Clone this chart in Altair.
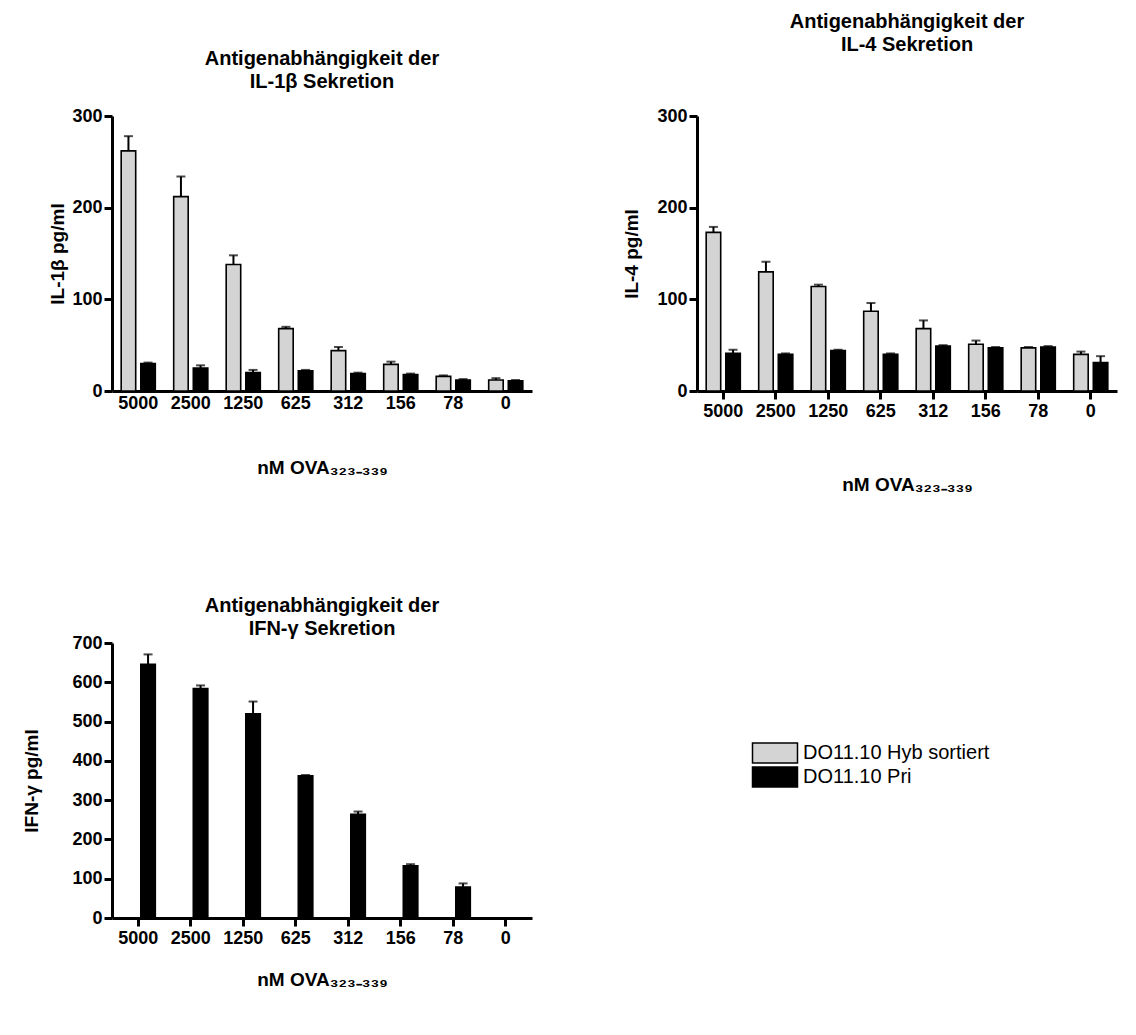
import altair as alt
import pandas as pd

categories = ["5000", "2500", "1250", "625", "312", "156", "78", "0"]
series = ["DO11.10 Hyb sortiert", "DO11.10 Pri"]

il1b_hyb = [262, 212, 138, 68, 44, 29, 16, 12]
il1b_hyb_err = [16, 22, 10, 2, 4, 3, 1, 2]
il1b_pri = [30, 25, 20, 22, 19, 18, 12, 11]
il1b_pri_err = [1, 3, 3, 1, 1, 1, 1, 1]

il4_hyb = [173, 130, 114, 87, 68, 51, 47, 40]
il4_hyb_err = [6, 11, 2, 9, 9, 4, 1, 3]
il4_pri = [41, 40, 44, 40, 49, 47, 48, 31]
il4_pri_err = [4, 1, 1, 1, 1, 1, 1, 7]

ifng_pri = [646, 584, 520, 362, 264, 133, 79, 0]
ifng_pri_err = [25, 8, 31, 2, 7, 4, 9, 0]

FONT = "Liberation Sans"
colors = ["#d4d4d4", "#000000"]


def make_df(hyb, hyb_err, pri, pri_err):
    rows = []
    for i, c in enumerate(categories):
        if hyb is not None:
            rows.append(dict(conc=c, series=series[0], value=hyb[i], err=hyb_err[i]))
        rows.append(dict(conc=c, series=series[1], value=pri[i], err=pri_err[i]))
    df = pd.DataFrame(rows)
    df["top"] = df["value"] + df["err"]
    return df


def panel(df, title_lines, title_offset, ytitle, ymax, ystep, ytitle_pad,
          xtitle_pad, xticks, legend=None):
    x = alt.X(
        "conc:N", sort=categories,
        scale=alt.Scale(paddingInner=0.35, paddingOuter=0.175),
        axis=alt.Axis(title="nM OVA₃₂₃₋₃₃₉", labelAngle=0, ticks=xticks,
                      tickSize=8, tickWidth=3, labelPadding=3,
                      titlePadding=xtitle_pad),
    )
    xoff = alt.XOffset("series:N",
                       scale=alt.Scale(domain=series, paddingInner=0.26, paddingOuter=0))
    yscale = alt.Scale(domain=[0, ymax], nice=False)
    yaxis = alt.Axis(values=list(range(0, ymax + 1, ystep)), title=ytitle,
                     tickSize=8, tickWidth=3, labelPadding=2, labelOverlap=False,
                     labelFlush=False, titlePadding=ytitle_pad)
    y = alt.Y("value:Q", scale=yscale, axis=yaxis)
    ytop = alt.Y("top:Q", scale=yscale, axis=yaxis)
    color = alt.Color("series:N", scale=alt.Scale(domain=series, range=colors),
                      legend=legend)
    base = alt.Chart(df)
    bars = base.mark_bar(stroke="black", strokeWidth=1.6).encode(
        x=x, xOffset=xoff, y=y, color=color)
    rule = base.mark_rule(color="black", strokeWidth=2).encode(
        x=x, xOffset=xoff, y=y, y2="top:Q")
    cap = base.mark_tick(color="black", thickness=2, size=9).encode(
        x=x, xOffset=xoff, y=ytop)
    return alt.layer(bars, rule, cap).properties(
        width=420, height=275,
        title=alt.TitleParams(title_lines, offset=title_offset, fontSize=20,
                              font=FONT, fontWeight="bold", color="black",
                              lineHeight=23, anchor="middle"),
    )


legend = alt.Legend(
    title=None, orient="none", legendX=652, legendY=99,
    symbolType="M-2.25,-1L2.25,-1L2.25,1L-2.25,1Z", symbolSize=400,
    symbolStrokeColor="black", symbolStrokeWidth=1.5, symbolOpacity=1,
    labelFont=FONT, labelFontSize=20, labelColor="black", labelFontWeight="normal",
    labelOffset=17, labelLimit=0, rowPadding=-4,
)

p1 = panel(make_df(il1b_hyb, il1b_hyb_err, il1b_pri, il1b_pri_err),
           ["Antigenabhängigkeit der", "IL-1β Sekretion"], 15,
           "IL-1β pg/ml", 300, 100, 4, 46, False)
p2 = panel(make_df(il4_hyb, il4_hyb_err, il4_pri, il4_pri_err),
           ["Antigenabhängigkeit der", "IL-4 Sekretion"], 52,
           "IL-4 pg/ml", 300, 100, 15, 55, True)
p3 = panel(make_df(None, None, ifng_pri, ifng_pri_err),
           ["Antigenabhängigkeit der", "IFN-γ Sekretion"], -5,
           "IFN-γ pg/ml", 700, 100, 30, 23, True, legend=legend)

chart = alt.concat(
    p1, p2, p3, columns=2, spacing={"row": 252, "column": 165}, bounds="flush",
).resolve_scale(color="independent").properties(
    padding={"left": 14, "top": 4, "right": 5, "bottom": 5},
).configure_view(stroke=None).configure_axis(
    grid=False, domainColor="black", domainWidth=3, tickColor="black",
    labelColor="black", titleColor="black", labelFont=FONT, titleFont=FONT,
    labelFontSize=18, titleFontSize=19, labelFontWeight="bold",
    titleFontWeight="bold",
)

chart.save("out.html", embed_options={"renderer": "svg", "actions": False})
